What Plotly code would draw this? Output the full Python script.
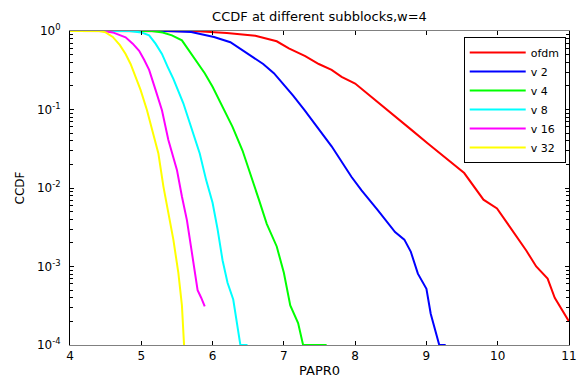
import plotly.graph_objects as go

# ---- data (PAPR0 in dB, CCDF) ----
ofdm_x = [4.0, 5.8, 6.2, 6.6, 6.9, 7.07, 7.3, 7.49, 7.67, 7.81, 8.0, 8.23, 8.56, 8.79, 9.02, 9.25, 9.53, 9.8, 9.99, 10.17, 10.4, 10.54, 10.7, 10.8, 11.0]
ofdm_y = [1.0, 0.99, 0.944, 0.87, 0.74, 0.6, 0.48, 0.38, 0.32, 0.26, 0.214, 0.145, 0.081, 0.055, 0.037, 0.025, 0.0155, 0.0071, 0.0055, 0.0032, 0.0016, 0.001, 0.0007, 0.0004, 0.0002]

v2_x = [4.0, 5.38, 5.7, 6.02, 6.25, 6.43, 6.57, 6.71, 6.86, 6.99, 7.13, 7.29, 7.67, 7.95, 8.09, 8.32, 8.56, 8.69, 8.78, 8.88, 9.0, 9.06, 9.13, 9.18, 9.27]
v2_y = [1.0, 1.0, 0.97, 0.84, 0.72, 0.56, 0.47, 0.38, 0.29, 0.214, 0.15, 0.098, 0.034, 0.0138, 0.0093, 0.0052, 0.00275, 0.0022, 0.00155, 0.00081, 0.00052, 0.00025, 0.00014, 0.0001, 0.0001]

v4_x = [4.0, 5.15, 5.3, 5.43, 5.57, 5.7, 5.8, 5.89, 6.0, 6.14, 6.28, 6.42, 6.53, 6.65, 6.76, 6.9, 7.0, 7.09, 7.2, 7.27, 7.6]
v4_y = [1.0, 1.0, 0.955, 0.88, 0.76, 0.51, 0.38, 0.29, 0.195, 0.107, 0.06, 0.03, 0.0155, 0.0071, 0.0035, 0.0018, 0.00083, 0.00032, 0.00019, 0.0001, 0.0001]

v8_x = [4.0, 4.83, 5.0, 5.11, 5.2, 5.29, 5.37, 5.45, 5.59, 5.71, 5.82, 5.91, 6.0, 6.07, 6.14, 6.21, 6.29, 6.35, 6.39, 6.49]
v8_y = [1.0, 1.0, 0.96, 0.88, 0.69, 0.51, 0.35, 0.245, 0.12, 0.055, 0.0275, 0.0126, 0.0065, 0.003, 0.0012, 0.00062, 0.00038, 0.00017, 0.0001, 0.0001]

v16_x = [4.0, 4.46, 4.6, 4.78, 4.88, 4.97, 5.04, 5.11, 5.2, 5.29, 5.38, 5.5, 5.57, 5.64, 5.71, 5.79, 5.84, 5.89]
v16_y = [1.0, 1.0, 0.96, 0.83, 0.69, 0.56, 0.43, 0.32, 0.178, 0.098, 0.041, 0.017, 0.0078, 0.0039, 0.0015, 0.0005, 0.0004, 0.00031]

v32_x = [4.0, 4.41, 4.5, 4.6, 4.7, 4.78, 4.85, 4.9, 4.99, 5.08, 5.17, 5.24, 5.31, 5.38, 5.45, 5.52, 5.57, 5.6]
v32_y = [1.0, 1.0, 0.96, 0.84, 0.66, 0.51, 0.38, 0.29, 0.178, 0.098, 0.05, 0.0275, 0.0105, 0.0048, 0.0022, 0.00083, 0.00032, 0.0001]

series_names = ["ofdm", "v 2", "v 4", "v 8", "v 16", "v 32"]
series_colors = ["#ff0000", "#0000ff", "#00ff00", "#00ffff", "#ff00ff", "#ffff00"]

x_ticks = [4, 5, 6, 7, 8, 9, 10, 11]
y_tickvals = [1, 0.1, 0.01, 0.001, 0.0001]
y_ticktext = ["10<sup>0</sup>", "10<sup>-1</sup>", "10<sup>-2</sup>", "10<sup>-3</sup>", "10<sup>-4</sup>"]

xs = [ofdm_x, v2_x, v4_x, v8_x, v16_x, v32_x]
ys = [ofdm_y, v2_y, v4_y, v8_y, v16_y, v32_y]

fig = go.Figure()
for name, color, x, y in zip(series_names, series_colors, xs, ys):
    fig.add_trace(go.Scatter(x=x, y=y, mode="lines", name=name,
                             line=dict(color=color, width=2)))

font = "DejaVu Sans, Liberation Sans, sans-serif"
fig.update_layout(
    width=585, height=378,
    margin=dict(l=70, r=8, t=31, b=33),
    paper_bgcolor="white", plot_bgcolor="white",
    font=dict(family=font, size=12, color="black"),
    title=dict(text="CCDF at different subblocks,w=4", x=0.5, xref="paper", xanchor="center",
               y=0.956, yanchor="middle", font=dict(size=13)),
    showlegend=True,
    legend=dict(x=0.789, y=0.981, xanchor="left", yanchor="top",
                bgcolor="white", bordercolor="black", borderwidth=1,
                font=dict(size=11), itemwidth=56, tracegroupgap=0),
    annotations=[dict(text="PAPR0", xref="paper", yref="paper", x=0.5, y=-0.08,
                      xanchor="center", yanchor="middle", showarrow=False,
                      font=dict(size=13))],
)
fig.update_xaxes(
    range=[4, 11], tickvals=x_ticks, ticks="inside", ticklen=4, tickcolor="black",
    showline=True, linecolor="#808080", linewidth=1, mirror="ticks",
    showgrid=False, zeroline=False, tickfont=dict(size=12),
)
fig.update_yaxes(
    type="log", range=[-4, 0], tickvals=y_tickvals, ticktext=y_ticktext,
    ticks="inside", ticklen=4, tickcolor="black", ticklabelstandoff=6,
    showline=True, linecolor="black", linewidth=1, mirror="ticks",
    showgrid=False, zeroline=False, tickfont=dict(size=12),
    minor=dict(ticks="inside", ticklen=3, dtick="D1", showgrid=False, tickcolor="black"),
    title=dict(text="CCDF", standoff=9, font=dict(size=12)),
)
fig.write_html("out.html", config={"displayModeBar": False},
               post_script="document.body.style.margin='0px';document.body.style.overflow='hidden';")
